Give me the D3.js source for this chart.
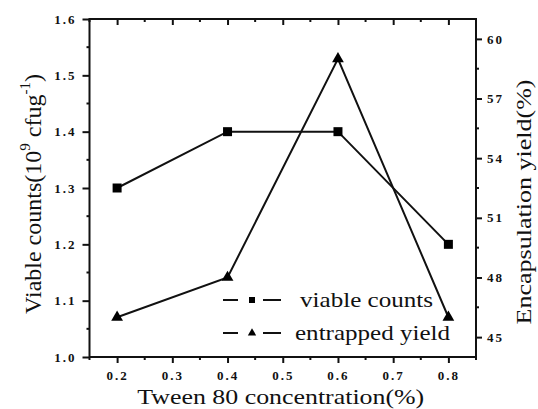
<!DOCTYPE html>
<html>
<head>
<meta charset="utf-8">
<script src="https://cdn.jsdelivr.net/npm/d3@7"></script>
<style>
  body { margin: 0; background: #fff; }
  text { font-family: "Liberation Serif", "Times New Roman", Times, "DejaVu Serif", serif !important; }
</style>
</head>
<body>
<div id="chart"></div>
<script>
"use strict"

/* data */
let concentrations = [0.2, 0.4, 0.6, 0.8];
let viableCounts = [1.3, 1.4, 1.4, 1.2];
let entrappedYield = [46, 48, 59, 46];

let xTicks = [0.2, 0.3, 0.4, 0.5, 0.6, 0.7, 0.8];
let leftTicks = [1.0, 1.1, 1.2, 1.3, 1.4, 1.5, 1.6];
let rightTicks = [45, 48, 51, 54, 57, 60];
let legendLabels = ["viable counts", "entrapped yield"];

let width = 538, height = 409;
let plotLeft = 89.5, plotRight = 476, plotTop = 19, plotBottom = 357;

let svg = d3.select("#chart")
  .append("svg")
  .attr("width", width)
  .attr("height", height);

let x = d3.scaleLinear().domain([0.15, 0.85]).range([plotLeft, plotRight]);
let yLeft = d3.scaleLinear().domain([1.0, 1.6]).range([plotBottom, plotTop]);
let yRight = d3.scaleLinear().domain([44, 61]).range([plotBottom, plotTop]);

/* minor tick helpers */
let xMinor = d3.range(0.15, 0.851, 0.05).filter(v => xTicks.every(t => Math.abs(t - v) > 1e-6));
let leftMinor = d3.range(1.05, 1.6, 0.1);
let rightMinor = d3.range(46.5, 60, 3);

/* ---------- axes ---------- */
let bottomAxis = svg.append("g")
  .attr("transform", `translate(0,${plotBottom})`)
  .call(d3.axisBottom(x).tickValues(xTicks).tickSize(6).tickFormat(d3.format(".1f")));
bottomAxis.append("g").selectAll("line").data(xMinor).join("line")
  .attr("x1", d => x(d)).attr("x2", d => x(d)).attr("y1", 0).attr("y2", 3);

let topAxis = svg.append("g")
  .attr("transform", `translate(0,${plotTop})`)
  .call(d3.axisTop(x).tickValues(xTicks).tickSize(-6).tickFormat(""));
topAxis.append("g").selectAll("line").data(xMinor).join("line")
  .attr("x1", d => x(d)).attr("x2", d => x(d)).attr("y1", 0).attr("y2", 3);

let leftAxis = svg.append("g")
  .attr("transform", `translate(${plotLeft},0)`)
  .call(d3.axisLeft(yLeft).tickValues(leftTicks).tickSize(7).tickPadding(6).tickFormat(d3.format(".1f")));
leftAxis.append("g").selectAll("line").data(leftMinor).join("line")
  .attr("y1", d => yLeft(d)).attr("y2", d => yLeft(d)).attr("x1", 0).attr("x2", -3);

let rightAxis = svg.append("g")
  .attr("transform", `translate(${plotRight},0)`)
  .call(d3.axisRight(yRight).tickValues(rightTicks).tickSize(6).tickPadding(5));
rightAxis.append("g").selectAll("line").data(rightMinor).join("line")
  .attr("y1", d => yRight(d)).attr("y2", d => yRight(d)).attr("x1", 0).attr("x2", 3);

svg.selectAll(".domain").remove();
svg.selectAll(".tick line, g g line").attr("stroke", "#111").attr("stroke-width", 2);
svg.selectAll(".tick text")
  .attr("font-size", 13).attr("font-weight", "bold")
  .attr("letter-spacing", 2).attr("fill", "#111");
bottomAxis.selectAll(".tick text").attr("dy", "1.1em");

/* frame */
svg.append("rect")
  .attr("x", plotLeft).attr("y", plotTop)
  .attr("width", plotRight - plotLeft).attr("height", plotBottom - plotTop)
  .attr("fill", "none").attr("stroke", "#111").attr("stroke-width", 2);

/* ---------- series ---------- */
let viableLine = d3.line().x((d, i) => x(concentrations[i])).y(d => yLeft(d));
let yieldLine = d3.line().x((d, i) => x(concentrations[i])).y(d => yRight(d));

svg.append("path").attr("d", viableLine(viableCounts))
  .attr("fill", "none").attr("stroke", "#111").attr("stroke-width", 2);
svg.append("path").attr("d", yieldLine(entrappedYield))
  .attr("fill", "none").attr("stroke", "#111").attr("stroke-width", 2);

let square = d3.symbol().type(d3.symbolSquare).size(81);
let triangle = d3.symbol().type(d3.symbolTriangle).size(60);

svg.selectAll(".sq").data(viableCounts).join("path")
  .attr("class", "sq")
  .attr("d", square)
  .attr("transform", (d, i) => `translate(${x(concentrations[i])},${yLeft(d)})`)
  .attr("fill", "#000");

svg.selectAll(".tri").data(entrappedYield).join("path")
  .attr("class", "tri")
  .attr("d", triangle)
  .attr("transform", (d, i) => `translate(${x(concentrations[i])},${yRight(d)})`)
  .attr("fill", "#000");

/* ---------- legend ---------- */
let legendRows = [300, 333];
let legendText = [300, 295];
let legendWidths = [133, 155];
let legendSymbols = [d3.symbol().type(d3.symbolSquare).size(36), d3.symbol().type(d3.symbolTriangle).size(30)];

legendLabels.forEach((label, i) => {
  let g = svg.append("g").attr("transform", `translate(0,${legendRows[i]})`);
  g.append("line").attr("x1", 223).attr("x2", 238).attr("y1", 0).attr("y2", 0)
    .attr("stroke", "#111").attr("stroke-width", 2);
  g.append("line").attr("x1", 263).attr("x2", 281).attr("y1", 0).attr("y2", 0)
    .attr("stroke", "#111").attr("stroke-width", 2);
  g.append("path").attr("d", legendSymbols[i]()).attr("transform", "translate(252,0)").attr("fill", "#000");
  g.append("text").attr("x", legendText[i]).attr("y", 7)
    .attr("font-size", 21).attr("fill", "#111")
    .attr("textLength", legendWidths[i]).attr("lengthAdjust", "spacingAndGlyphs")
    .text(label);
});

/* ---------- axis titles ---------- */
svg.append("text")
  .attr("x", (plotLeft + plotRight) / 2 - 2).attr("y", 404)
  .attr("text-anchor", "middle").attr("font-size", 21).attr("fill", "#111")
  .attr("textLength", 287).attr("lengthAdjust", "spacingAndGlyphs")
  .text("Tween 80 concentration(%)");

let leftTitle = svg.append("text")
  .attr("transform", "translate(41,194) rotate(-90)")
  .attr("text-anchor", "middle").attr("font-size", 24).attr("fill", "#111");
leftTitle.append("tspan").text("Viable counts(10");
leftTitle.append("tspan").attr("font-size", 15).attr("dy", -11).text("9");
leftTitle.append("tspan").attr("dy", 11).text(" cfug");
leftTitle.append("tspan").attr("font-size", 15).attr("dy", -11).text("-1");
leftTitle.append("tspan").attr("dy", 11).text(")");

svg.append("text")
  .attr("transform", "translate(531,202) rotate(-90)")
  .attr("text-anchor", "middle").attr("font-size", 21).attr("fill", "#111")
  .attr("textLength", 245).attr("lengthAdjust", "spacingAndGlyphs")
  .text("Encapsulation yield(%)");
</script>
</body>
</html>
